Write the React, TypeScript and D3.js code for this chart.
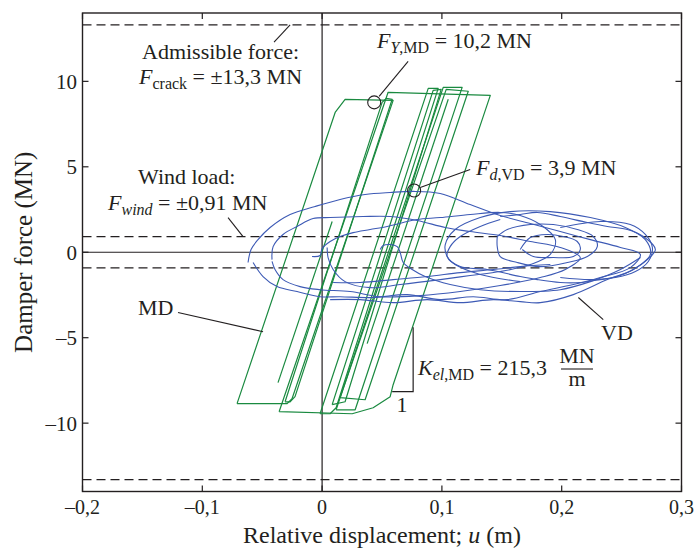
import React from 'react';
import * as d3 from 'd3';

const W = 694, H = 551;
const xDomain = [-0.2, 0.3];
const yDomain = [-14, 14];
const xTicks = [-0.2, -0.1, 0, 0.1, 0.2, 0.3];
const yTicks = [-10, -5, 0, 5, 10];
const crackForce = 13.3;
const windForce = 0.91;
const kEl = 215.3;

// MD hysteresis loops [u (m), F (MN)]
const mdLoopA = [[-0.071,-8.86],[0.0109,8.18],[0.0192,8.95],[0.0593,8.89],[-0.0251,-8.57],[-0.0292,-8.86],[-0.071,-8.86]];
const mdLoopB = [[-0.0359,-9.33],[0.0551,9.36],[0.1404,9.18],[0.0593,-7.75],[0.0568,-8.45],[0.0426,-9.10],[0.0251,-9.45],[-0.0359,-9.33]];
const mdLoopE = [[-0.0309,-8.75],[0.0501,8.77],[0.0535,9.00],[0.0585,8.95],[-0.0226,-8.45],[-0.0267,-8.75],[-0.0309,-8.75]];
const mdLoopC = [[-0.0017,-9.45],[0.0886,9.59],[0.0969,9.59],[0.0117,-9.10],[0.0067,-9.45],[-0.0017,-9.45]];
const mdLoopD = [[0.0117,-9.22],[0.1011,9.65],[0.1169,9.65],[0.0276,-9.22],[0.0117,-9.22]];
const mdLoopF = [[0.0150,-8.51],[0.1036,9.53],[0.1220,9.42],[0.0359,-8.63],[0.0150,-8.51]];
const mdLoopG = [[0.0084,-8.92],[0.0927,9.47],[0.0994,9.53],[0.0192,-8.75],[0.0084,-8.92]];
const mdPartial1 = [[-0.0368,-7.63],[0.0084,1.80]];
const mdPartial2 = [[0.0376,-5.35],[0.1053,8.95]];
const mdCurves = [mdLoopA, mdLoopB, mdLoopE, mdLoopC, mdLoopD, mdLoopF, mdLoopG, mdPartial1, mdPartial2];

// VD loops [u (m), F (MN)]
const vd1 = [[-0.0618,-0.60],[-0.0593,0.16],[-0.0535,0.74],[-0.0434,1.45],[-0.0267,2.21],[-0.0058,2.68],[0.0150,3.09],[0.0359,3.38],[0.0568,3.50],[0.0760,3.56],[0.0986,3.44],[0.1236,2.79],[0.1487,2.15],[0.1738,1.68],[0.1988,1.21],[0.2239,0.74],[0.2490,0.28],[0.2657,-0.13],[0.2573,-0.90],[0.2322,-1.48],[0.2097,-1.89],[0.1821,-2.30],[0.1546,-2.77],[0.1261,-2.60],[0.0986,-2.77],[0.0710,-2.48],[0.0426,-2.65],[0.0150,-2.60],[-0.0017,-2.60],[-0.0209,-2.30],[-0.0376,-2.01],[-0.0493,-1.42],[-0.0576,-0.60]];
const vd2 = [[-0.0418,-0.43],[-0.0409,0.33],[-0.0326,1.04],[-0.0209,1.51],[-0.0075,1.97],[0.0067,2.03],[0.0343,2.09],[0.0568,2.09],[0.0794,1.86],[0.1028,1.45],[0.1236,1.21],[0.1487,0.98],[0.1738,0.63],[0.1988,0.28],[0.2155,-0.31],[0.2030,-1.01],[0.1821,-1.48],[0.1487,-1.95],[0.1153,-2.30],[0.0819,-2.54],[0.0485,-2.60],[0.0234,-2.30],[-0.0017,-2.19],[-0.0184,-2.01],[-0.0326,-1.60],[-0.0393,-1.01],[-0.0418,-0.54]];
const vd3 = [[-0.0084,-0.25],[-0.0017,-0.19],[0.0,0.22],[0.0067,0.63],[0.0150,0.92],[0.0259,1.15],[0.0401,1.33],[0.0543,1.51],[0.0677,1.74],[0.0794,1.92],[0.0986,2.03],[0.1236,2.21],[0.1487,2.33],[0.1654,2.15],[0.1821,1.62],[0.1947,0.74],[0.1905,-0.13],[0.1738,-0.72],[0.1487,-1.13],[0.1236,-1.36],[0.0986,-1.60],[0.0652,-1.89],[0.0401,-2.07],[0.0192,-1.72],[0.0092,-1.01],[0.0050,-0.31],[0.0042,0.28]];
const vd4 = [[0.0485,0.16],[0.0510,0.39],[0.0568,0.45],[0.0627,0.33],[0.0652,-0.02],[0.0677,-0.60],[0.0752,-1.01],[0.0860,-1.42],[0.1069,-1.89],[0.1320,-2.19],[0.1654,-2.30],[0.1988,-2.19],[0.2239,-1.72],[0.2490,-1.01],[0.2657,-0.31]];
const vd5 = [[0.0067,-2.77],[0.0317,-2.77],[0.0593,-2.95],[0.0877,-2.77],[0.1153,-2.95],[0.1429,-2.77],[0.1654,-2.89],[0.1821,-2.95],[0.2097,-2.48],[0.2381,-1.60],[0.2598,-1.01],[0.2740,-0.13],[0.2698,0.74],[0.2531,1.45],[0.2239,2.03],[0.1905,2.38],[0.1571,2.38],[0.1320,2.03],[0.1111,1.33],[0.1028,0.45],[0.1044,-0.25],[0.1111,-0.72],[0.1320,-1.30],[0.1654,-1.72]];
const vd6 = [[0.1487,2.09],[0.1654,2.21],[0.1796,2.33],[0.1988,2.09],[0.2214,1.74],[0.2381,1.51],[0.2548,1.33],[0.2682,0.92],[0.2782,0.16],[0.2715,-0.43],[0.2598,-1.01],[0.2464,-1.42],[0.2322,-1.60],[0.2155,-1.77],[0.1988,-1.77],[0.1796,-1.60],[0.1654,-1.42],[0.1378,-1.01],[0.1153,-0.84],[0.1044,-0.25],[0.1069,0.33],[0.1153,0.92],[0.1320,1.51],[0.1487,1.92]];
const vd7 = [[0.1462,0.92],[0.1546,1.33],[0.1738,1.62],[0.1930,1.62],[0.2130,1.33],[0.2264,0.92],[0.2297,0.33],[0.2214,-0.25],[0.2047,-0.60],[0.1821,-0.84],[0.1629,-0.60],[0.1487,-0.25],[0.1462,0.33],[0.1462,0.92]];
const vd8 = [[0.1654,0.16],[0.1738,0.86],[0.1880,1.04],[0.2013,0.92],[0.2130,0.63],[0.2155,0.16],[0.2097,-0.25],[0.1930,-0.31],[0.1763,-0.25],[0.1671,0.16]];
const vd9 = [[0.1988,1.45],[0.2322,1.80],[0.2573,1.62],[0.2698,1.04],[0.2757,0.28],[0.2723,-0.54],[0.2615,-1.13],[0.2448,-1.48],[0.2239,-1.60],[0.1988,-1.48]];
const vd10 = [[0.0092,-1.77],[0.0317,-1.77],[0.0593,-1.60],[0.0877,-1.42],[0.1153,-1.19],[0.1429,-1.01],[0.1654,-0.84],[0.1905,-0.72]];
const vdCurves = [vd1, vd2, vd3, vd4, vd5, vd6, vd7, vd8, vd9, vd10];

// annotation anchor points [u, F]
const circleYield = [0.0435, 8.77];
const circleVd = [0.0768, 3.61];
const ptrCrack = [[-0.0401, 12.29], [-0.0267, 13.3]];
const ptrWind = [[-0.0785, 2.03], [-0.066, 0.91]];
const ptrYield = [[0.0718, 11.17], [0.0476, 9.12]];
const ptrVd = [[0.1236, 4.84], [0.0819, 3.79]];
const ptrMd = [[-0.1203, -3.53], [-0.0493, -4.65]];
const ptrVdLabel = [[0.2139, -2.65], [0.2347, -3.94]];
const slopeBase = [0.0585, -8.16];
const slopeDu = 0.0175;

const GREEN = '#1a8a40';
const BLUE = '#3d5ab5';
const INK = '#231f20';
const FONT = "'Liberation Serif', 'DejaVu Serif', 'Times New Roman', serif";

const fmt = (v: number) => v === 0 ? '0' : (v < 0 ? '\u2013' : '') + String(+Math.abs(v).toFixed(1)).replace('.', ',');

export default function App() {
  const x = d3.scaleLinear().domain(xDomain).range([82.5, 681.5]);
  const y = d3.scaleLinear().domain(yDomain).range([491.5, 13]);
  const [x0, x1] = x.range();
  const [y0, y1] = y.range();
  const lin = d3.line<number[]>().x(d => x(d[0])).y(d => y(d[1]));
  const smooth = d3.line<number[]>().x(d => x(d[0])).y(d => y(d[1])).curve(d3.curveCatmullRom.alpha(0.5));
  const tl = 6;
  const seg = (p: number[][], key: string) => (
    <line key={key} x1={x(p[0][0])} y1={y(p[0][1])} x2={x(p[1][0])} y2={y(p[1][1])} stroke={INK} strokeWidth={1.1} />
  );
  const slopeTop = slopeBase[1] + kEl * slopeDu;
  const AF = 22, SF = 16;
  return (
    <svg width={W} height={H} style={{ position: 'absolute', left: 0, top: 0, background: '#fff', fontFamily: FONT }}>
      <rect x={0} y={0} width={W} height={H} fill="#fff" />
      {[crackForce, -crackForce, windForce, -windForce].map((v, i) => (
        <line key={'d' + i} x1={x0} x2={x1} y1={y(v)} y2={y(v)} stroke={INK} strokeWidth={1.2} strokeDasharray="9,5" />
      ))}
      <line x1={x0} x2={x1} y1={y(0)} y2={y(0)} stroke={INK} strokeWidth={1.2} />
      <line x1={x(0)} x2={x(0)} y1={y0} y2={y1} stroke={INK} strokeWidth={1.2} />
      {mdCurves.map((c, i) => (
        <path key={'md' + i} d={lin(c) || ''} fill="none" stroke={GREEN} strokeWidth={1.2} strokeLinejoin="round" />
      ))}
      {vdCurves.map((c, i) => (
        <path key={'vd' + i} d={smooth(c) || ''} fill="none" stroke={BLUE} strokeWidth={1.1} />
      ))}
      <rect x={x0} y={y1} width={x1 - x0} height={y0 - y1} fill="none" stroke={INK} strokeWidth={1.4} />
      {xTicks.map(t => (
        <g key={'xt' + t}>
          <line x1={x(t)} x2={x(t)} y1={y0} y2={y0 - tl} stroke={INK} strokeWidth={1.2} />
          <line x1={x(t)} x2={x(t)} y1={y1} y2={y1 + tl} stroke={INK} strokeWidth={1.2} />
          <text x={x(t)} y={514} textAnchor="middle" fontSize={20} fill={INK}>{fmt(t)}</text>
        </g>
      ))}
      {yTicks.map(t => (
        <g key={'yt' + t}>
          <line x1={x0} x2={x0 + tl} y1={y(t)} y2={y(t)} stroke={INK} strokeWidth={1.2} />
          <line x1={x1} x2={x1 - tl} y1={y(t)} y2={y(t)} stroke={INK} strokeWidth={1.2} />
          <text x={77} y={y(t) + 7.5} textAnchor="end" fontSize={21} fill={INK}>{fmt(t)}</text>
        </g>
      ))}
      <text x={(x0 + x1) / 2} y={543} textAnchor="middle" fontSize={24} fill={INK}>
        Relative displacement; <tspan fontStyle="italic">u</tspan> (m)
      </text>
      <text transform={`translate(32,${(y0 + y1) / 2}) rotate(-90)`} textAnchor="middle" fontSize={25} fill={INK}>
        Damper force (MN)
      </text>
      <g fill={INK} fontSize={AF}>
        <text x={142} y={59}>Admissible force:</text>
        <text x={139} y={84}><tspan fontStyle="italic">F</tspan><tspan fontSize={SF} dy={5}>crack</tspan><tspan dy={-5}> = ±13,3 MN</tspan></text>
        <text x={138} y={184}>Wind load:</text>
        <text x={108} y={210}><tspan fontStyle="italic">F</tspan><tspan fontSize={SF} dy={5} fontStyle="italic">wind</tspan><tspan dy={-5}> = ±0,91 MN</tspan></text>
        <text x={377} y={48}><tspan fontStyle="italic">F</tspan><tspan fontSize={SF} dy={5}><tspan fontStyle="italic">Y</tspan>,MD</tspan><tspan dy={-5}> = 10,2 MN</tspan></text>
        <text x={476} y={175}><tspan fontStyle="italic">F</tspan><tspan fontSize={SF} dy={5}><tspan fontStyle="italic">d</tspan>,VD</tspan><tspan dy={-5}> = 3,9 MN</tspan></text>
        <text x={138} y={315}>MD</text>
        <text x={601} y={340}>VD</text>
        <text x={418} y={375}><tspan fontStyle="italic">K</tspan><tspan fontSize={SF} dy={5}><tspan fontStyle="italic">el</tspan>,MD</tspan><tspan dy={-5}> = 215,3</tspan></text>
        <text x={577} y={363} textAnchor="middle">MN</text>
        <text x={577} y={386} textAnchor="middle">m</text>
        <text x={402} y={412} textAnchor="middle">1</text>
      </g>
      <line x1={561} x2={593} y1={369} y2={369} stroke={INK} strokeWidth={1.1} />
      {seg(ptrCrack, 'p1')}
      {seg(ptrWind, 'p2')}
      {seg(ptrYield, 'p3')}
      {seg(ptrVd, 'p4')}
      {seg(ptrMd, 'p5')}
      {seg(ptrVdLabel, 'p6')}
      <circle cx={x(circleYield[0])} cy={y(circleYield[1])} r={6.5} fill="none" stroke={INK} strokeWidth={1.1} />
      <circle cx={x(circleVd[0])} cy={y(circleVd[1])} r={6.5} fill="none" stroke={INK} strokeWidth={1.1} />
      <path d={`M${x(slopeBase[0])},${y(slopeBase[1])}H${x(slopeBase[0] + slopeDu)}V${y(slopeTop)}`} fill="none" stroke={INK} strokeWidth={1.2} />
    </svg>
  );
}
